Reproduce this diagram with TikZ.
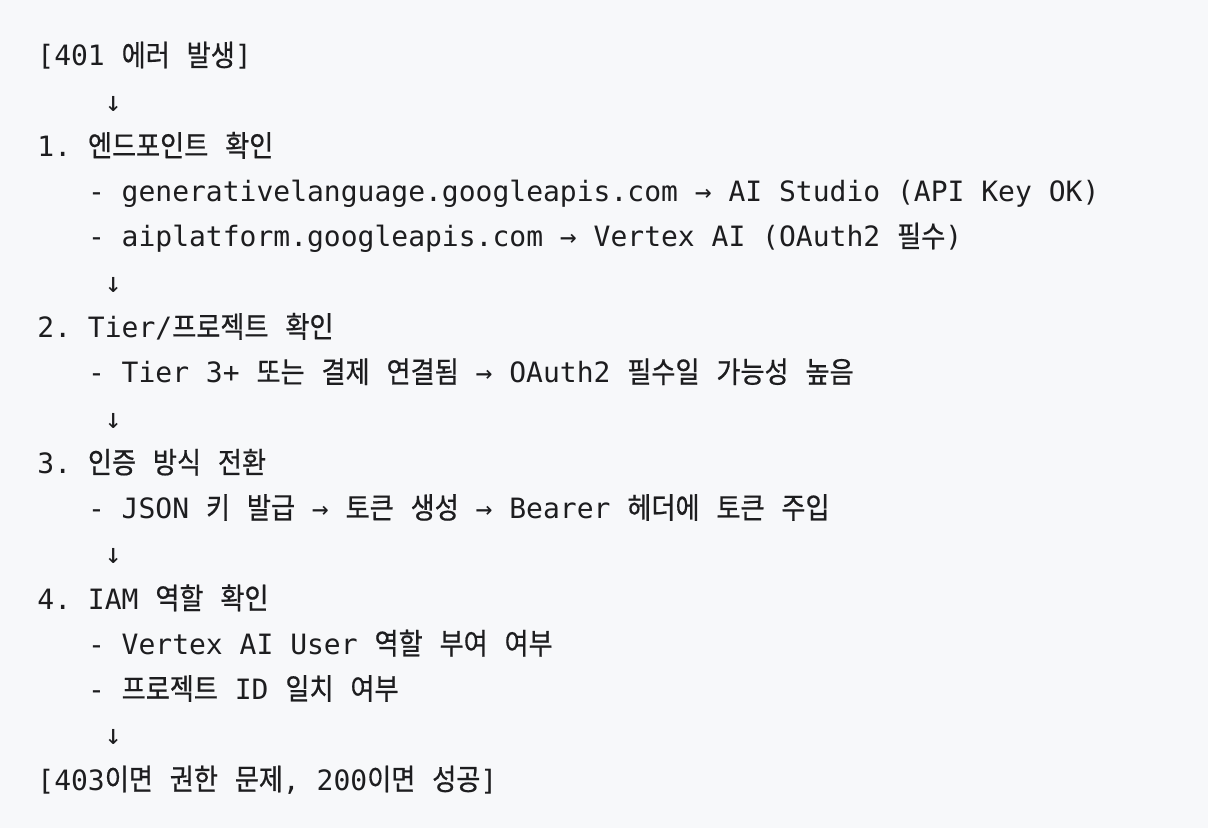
\documentclass[tikz,border=0pt]{standalone}
\usepackage{fontspec}
\setmonofont{DejaVu Sans Mono}
\newfontfamily\krfont[Scale=1.05, FakeStretch=0.89, FakeBold=0.6]{Noto Sans CJK KR}
\newcommand{\kr}[1]{{\krfont #1}}

\definecolor{codebg}{HTML}{F7F8FA}
\definecolor{codeink}{HTML}{1D1D1F}

\tikzset{
    codeline/.style={anchor=base west, inner sep=0pt, text=codeink,
        font=\fontsize{14}{14}\selectfont\ttfamily},
}

\begin{document}
\begin{tikzpicture}[x=0.5pt, y=-0.5pt]
        % Background of the code block
        \fill[codebg] (0,0) rectangle (1208,828);
        \useasboundingbox (0,0) rectangle (1208,828);

        % Start
        \node[codeline] (start) at (37,66) {[401 \kr{에러} \kr{발생}]};
        \node[codeline] (down0) at (104.4,111.25) {↓};

        % Step 1: endpoint
        \node[codeline] (step1) at (37,156.5) {1. \kr{엔드포인트} \kr{확인}};
        \node[codeline] (step1a) at (87.6,201.75) {- generativelanguage.googleapis.com → AI Studio (API Key OK)};
        \node[codeline] (step1b) at (87.6,247) {- aiplatform.googleapis.com → Vertex AI (OAuth2 \kr{필수})};
        \node[codeline] (down1) at (104.4,292.25) {↓};

        % Step 2: tier / project
        \node[codeline] (step2) at (37,337.5) {2. Tier/\kr{프로젝트} \kr{확인}};
        \node[codeline] (step2a) at (87.6,382.75) {- Tier 3+ \kr{또는} \kr{결제} \kr{연결됨} → OAuth2 \kr{필수일} \kr{가능성} \kr{높음}};
        \node[codeline] (down2) at (104.4,428) {↓};

        % Step 3: auth method
        \node[codeline] (step3) at (37,473.25) {3. \kr{인증} \kr{방식} \kr{전환}};
        \node[codeline] (step3a) at (87.6,518.5) {- JSON \kr{키} \kr{발급} → \kr{토큰} \kr{생성} → Bearer \kr{헤더에} \kr{토큰} \kr{주입}};
        \node[codeline] (down3) at (104.4,563.75) {↓};

        % Step 4: IAM role
        \node[codeline] (step4) at (37,609) {4. IAM \kr{역할} \kr{확인}};
        \node[codeline] (step4a) at (87.6,654.25) {- Vertex AI User \kr{역할} \kr{부여} \kr{여부}};
        \node[codeline] (step4b) at (87.6,699.5) {- \kr{프로젝트} ID \kr{일치} \kr{여부}};
        \node[codeline] (down4) at (104.4,744.75) {↓};

        % Result
        \node[codeline] (result) at (37,790) {[403\kr{이면} \kr{권한} \kr{문제}, 200\kr{이면} \kr{성공}]};
    \end{tikzpicture}
\end{document}
